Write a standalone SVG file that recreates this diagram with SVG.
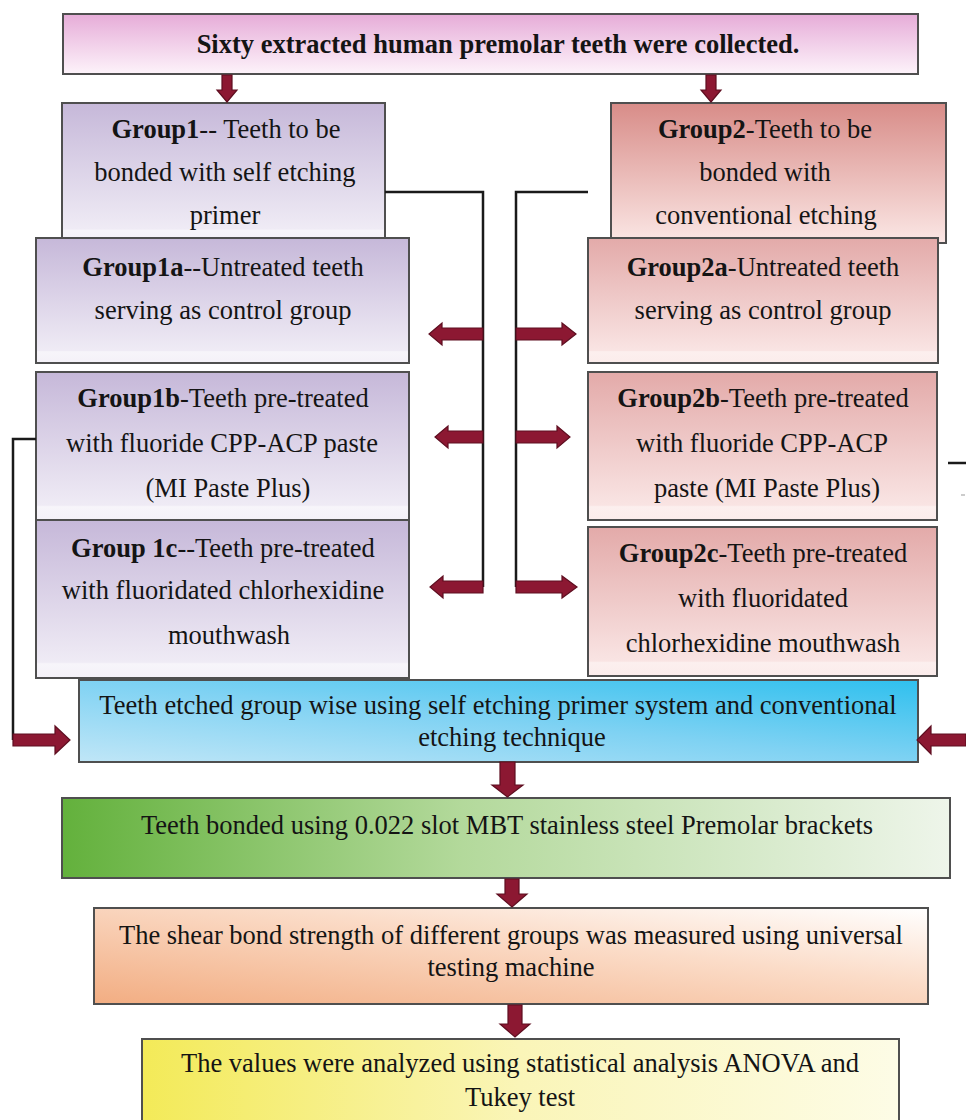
<svg xmlns="http://www.w3.org/2000/svg" width="966" height="1120" viewBox="0 0 966 1120">
<defs>
<linearGradient id="gTop" x1="0" y1="0" x2="0" y2="1"><stop offset="0" stop-color="#e6acd8"/><stop offset="1" stop-color="#fdf3fa"/></linearGradient>
<linearGradient id="gLav" x1="0" y1="0" x2="0" y2="1"><stop offset="0" stop-color="#c6b8d9"/><stop offset="0.9" stop-color="#efebf5"/><stop offset="0.91" stop-color="#f7f5fa"/><stop offset="1" stop-color="#f4f1f8"/></linearGradient>
<linearGradient id="gSal1" x1="0" y1="0" x2="0" y2="1"><stop offset="0" stop-color="#d88c88"/><stop offset="1" stop-color="#fbe7e5"/></linearGradient>
<linearGradient id="gSal2" x1="0" y1="0" x2="0" y2="1"><stop offset="0" stop-color="#e3aaa9"/><stop offset="0.9" stop-color="#f9e4e3"/><stop offset="0.91" stop-color="#fcefee"/><stop offset="1" stop-color="#fbeceb"/></linearGradient>
<linearGradient id="gBlue" x1="0" y1="1" x2="1" y2="0"><stop offset="0" stop-color="#c0e6f7"/><stop offset="0.5" stop-color="#7fd2f3"/><stop offset="1" stop-color="#2fc0ee"/></linearGradient>
<linearGradient id="gGreen" x1="0" y1="0" x2="1" y2="0"><stop offset="0" stop-color="#63b13c"/><stop offset="0.45" stop-color="#b3d99b"/><stop offset="1" stop-color="#eef5ea"/></linearGradient>
<linearGradient id="gOrange" x1="0" y1="1" x2="1" y2="0"><stop offset="0" stop-color="#f2ad82"/><stop offset="0.6" stop-color="#fbdcc8"/><stop offset="1" stop-color="#ffffff"/></linearGradient>
<linearGradient id="gYellow" x1="0" y1="0" x2="1" y2="0"><stop offset="0" stop-color="#f3ea58"/><stop offset="0.5" stop-color="#faf5b8"/><stop offset="1" stop-color="#fdfce6"/></linearGradient>
</defs>
<style>
.box{stroke:#4f4f4f;stroke-width:2}
.t{font-family:"Liberation Serif","Times New Roman",serif;font-size:26.5px;fill:#141414;text-anchor:middle}
.b{font-weight:bold}
.ln{fill:none;stroke:#1a1a1a;stroke-width:2.5}
.ar{fill:#8c1832;stroke:#5e0e20;stroke-width:1.2}
</style>
<rect width="966" height="1120" fill="#ffffff"/>

<g id="top">
<rect class="box" x="63" y="14" width="855" height="60" fill="url(#gTop)"/>
<text class="t b" x="498" y="53">Sixty extracted human premolar teeth were collected.</text>
</g>

<g id="group1">
<rect class="box" x="62" y="103" width="323" height="140" fill="url(#gLav)"/>
<text class="t" x="226" y="138"><tspan class="b">Group1</tspan>-- Teeth to  be</text>
<text class="t" x="225" y="181">bonded with self etching</text>
<text class="t" x="225" y="224">primer</text>
</g>

<g id="group2">
<rect class="box" x="611" y="103" width="335" height="140" fill="url(#gSal1)"/>
<text class="t" x="765" y="138"><tspan class="b">Group2</tspan>-Teeth to be</text>
<text class="t" x="765" y="181">bonded with</text>
<text class="t" x="766" y="224">conventional etching</text>
</g>

<g id="group1a">
<rect class="box" x="36" y="238" width="373" height="125" fill="url(#gLav)"/>
<text class="t" x="223" y="276"><tspan class="b">Group1a</tspan>--Untreated teeth</text>
<text class="t" x="223" y="319">serving as control group</text>
</g>

<g id="group2a">
<rect class="box" x="588" y="238" width="350" height="125" fill="url(#gSal2)"/>
<text class="t" x="763" y="276"><tspan class="b">Group2a</tspan>-Untreated teeth</text>
<text class="t" x="763" y="319">serving as control group</text>
</g>

<g id="group1b">
<rect class="box" x="36" y="372" width="373" height="148" fill="url(#gLav)"/>
<text class="t" x="223" y="407"><tspan class="b">Group1b</tspan>-Teeth  pre-treated</text>
<text class="t" x="222" y="452">with fluoride CPP-ACP  paste</text>
<text class="t" x="228" y="497">(MI Paste Plus)</text>
</g>

<g id="group1c">
<rect class="box" x="36" y="520" width="373" height="158" fill="url(#gLav)"/>
<text class="t" x="223" y="557"><tspan class="b">Group 1c</tspan>--Teeth  pre-treated</text>
<text class="t" x="223" y="599">with fluoridated chlorhexidine</text>
<text class="t" x="229" y="644">mouthwash</text>
</g>

<g id="group2b">
<rect class="box" x="588" y="372" width="349" height="148" fill="url(#gSal2)"/>
<text class="t" x="763" y="407"><tspan class="b">Group2b</tspan>-Teeth  pre-treated</text>
<text class="t" x="762" y="452">with fluoride CPP-ACP</text>
<text class="t" x="767" y="497">paste (MI Paste Plus)</text>
</g>

<g id="group2c">
<rect class="box" x="588" y="527" width="349" height="149" fill="url(#gSal2)"/>
<text class="t" x="763" y="562"><tspan class="b">Group2c</tspan>-Teeth pre-treated</text>
<text class="t" x="763" y="607">with fluoridated</text>
<text class="t" x="763" y="652">chlorhexidine mouthwash</text>
</g>

<g id="etch">
<rect class="box" x="79" y="680" width="839" height="82" fill="url(#gBlue)" stroke="#2f6f8c"/>
<text class="t" x="498" y="714">Teeth etched group wise using self etching  primer system and conventional</text>
<text class="t" x="512" y="746">etching technique</text>
</g>

<g id="bond">
<rect class="box" x="62" y="798" width="888" height="80" fill="url(#gGreen)"/>
<text class="t" x="507" y="834">Teeth bonded using 0.022 slot MBT stainless steel Premolar brackets</text>
</g>

<g id="shear">
<rect class="box" x="94" y="908" width="834" height="96" fill="url(#gOrange)"/>
<text class="t" x="511" y="944">The shear bond strength of different groups was measured using universal</text>
<text class="t" x="511" y="976">testing machine</text>
</g>

<g id="analysis">
<rect class="box" x="142" y="1039" width="757" height="90" fill="url(#gYellow)"/>
<text class="t" x="520" y="1072">The values were analyzed using statistical analysis ANOVA and</text>
<text class="t" x="520" y="1106">Tukey test</text>
</g>

<g id="connectors">
<path class="ln" d="M385 192 H483 V587"/>
<path class="ln" d="M588 192 H516 V587"/>
<path class="ln" d="M36 439 H13 V740"/>
<path class="ln" d="M948 463 H966"/>
<path d="M961 495 H965" stroke="#bbb" stroke-width="1.5"/>
<polygon class="ar" points="222,75 232,75 232,90 237,90 227,102 217,90 222,90"/>
<polygon class="ar" points="706,75 716,75 716,90 721,90 711,102 701,90 706,90"/>
<polygon class="ar" points="500,762 515,762 515,785 523,785 507.5,797 492,785 500,785"/>
<polygon class="ar" points="505,879 519,879 519,894 527,894 512,907 497,894 505,894"/>
<polygon class="ar" points="508,1005 522,1005 522,1024 530,1024 515,1037 500,1024 508,1024"/>
<polygon class="ar" points="483,328 442,328 442,323 429,334 442,345 442,340 483,340"/>
<polygon class="ar" points="483,431 448,431 448,426 435,437 448,448 448,443 483,443"/>
<polygon class="ar" points="483,581 443,581 443,576 430,587 443,598 443,593 483,593"/>
<polygon class="ar" points="516,328 562,328 562,323 576,334 562,345 562,340 516,340"/>
<polygon class="ar" points="516,431 557,431 557,426 570,437 557,448 557,443 516,443"/>
<polygon class="ar" points="516,581 562,581 562,576 577,587 562,598 562,593 516,593"/>
<polygon class="ar" points="13,734 55,734 55,726 70,740 55,754 55,746 13,746"/>
<polygon class="ar" points="966,734 931,734 931,726 917,740 931,754 931,746 966,746"/>
</g>
</svg>
